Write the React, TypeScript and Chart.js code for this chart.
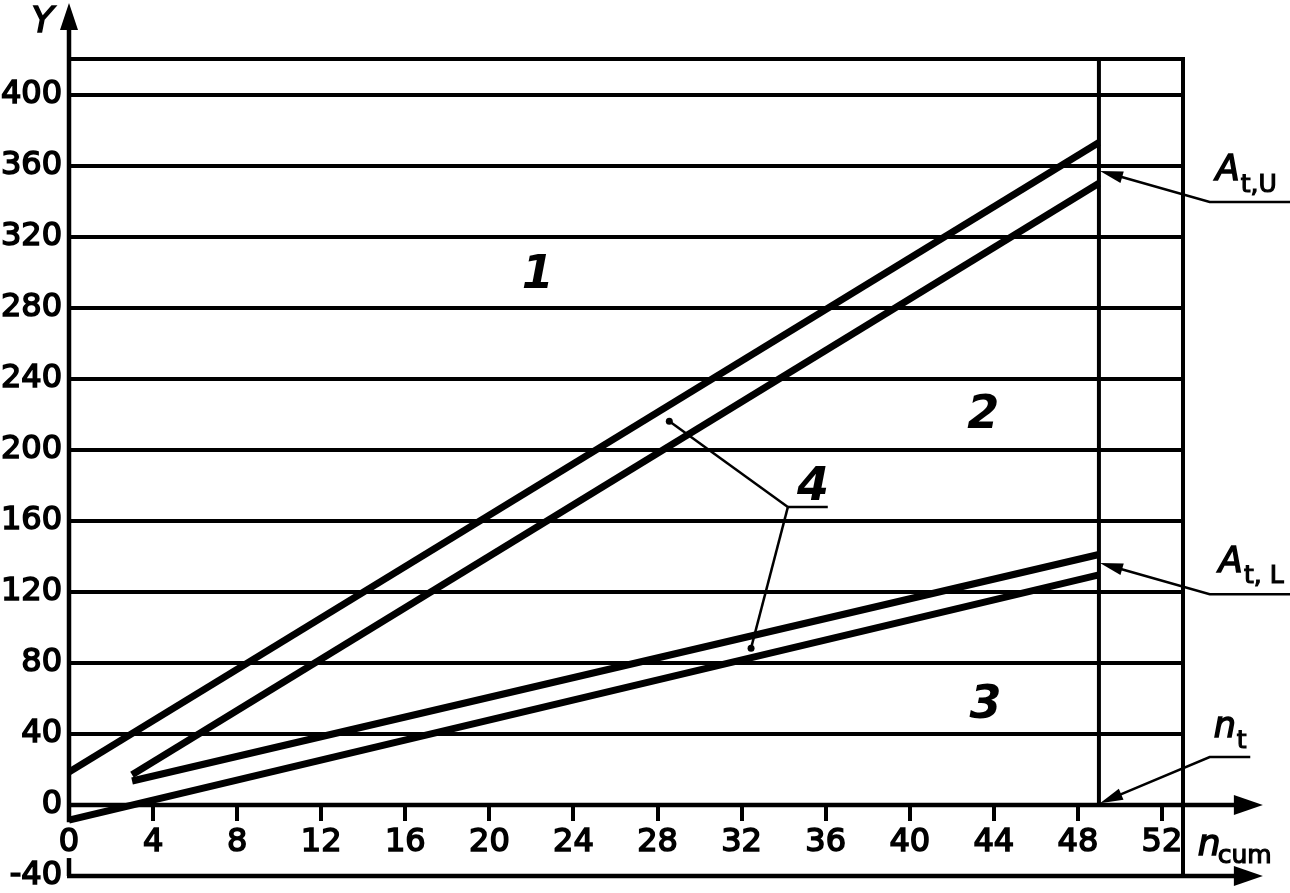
import React, { useEffect, useRef } from "react";
import { Chart, registerables } from "chart.js";

Chart.register(...registerables);

// ---- data ----
const xTicks = [0, 4, 8, 12, 16, 20, 24, 28, 32, 36, 40, 44, 48, 52];
const yTicks = [-40, 0, 40, 80, 120, 160, 200, 240, 280, 320, 360, 400, 420];

const upperOuterX = [0, 49];
const upperOuterY = [18.5, 373];
const upperInnerX = [3, 49];
const upperInnerY = [17, 350];
const lowerInnerX = [3, 49];
const lowerInnerY = [13.5, 141];
const lowerOuterX = [0, 49];
const lowerOuterY = [-8.5, 129.5];

const nT = 49; // n_t, vertical line
const xRight = 53;

const regionText = ["1", "2", "3", "4"];
const regionX = [22.3, 43.5, 43.6, 35.4];
const regionY = [291, 212, 49, 171.6];

// leader for "4": start (under label), then two dots
const leader4Start = [34.2, 167.7];
const leader4End = [36.1, 167.7];
const leader4DotsX = [28.56, 32.45];
const leader4DotsY = [216, 88.3];

// arrow callouts (tip x, tip y, elbow x, elbow y, end x)
const calloutTipX = [49.05, 49.05, 49.05];
const calloutTipY = [357, 136.2, 1];
const calloutElbowX = [54.27, 54.27, 54.27];
const calloutElbowY = [339.5, 118.7, 27];
const calloutEndX = [58.2, 58.2, 56.2];
const calloutMain = ["A", "A", "n"];
const calloutSub = ["t,U", "t, L", "t"];
const calloutMainX = [54.56, 54.7, 54.46];
const calloutMainY = [351.9, 131, 38];
const calloutSubX = [55.75, 55.9, 55.56];
const calloutSubY = [345, 125, 31.8];

const FONT = "DejaVu Sans, sans-serif";

function pts(xs: number[], ys: number[]) {
  return xs.map((x, i) => ({ x, y: ys[i] }));
}

function arrowHead(ctx: CanvasRenderingContext2D, tx: number, ty: number, fx: number, fy: number, len: number, half: number) {
  const dx = tx - fx, dy = ty - fy;
  const d = Math.hypot(dx, dy) || 1;
  const ux = dx / d, uy = dy / d;
  const bx = tx - ux * len, by = ty - uy * len;
  ctx.beginPath();
  ctx.moveTo(tx, ty);
  ctx.lineTo(bx - uy * half, by + ux * half);
  ctx.lineTo(bx + uy * half, by - ux * half);
  ctx.closePath();
  ctx.fill();
}

function seg(ctx: CanvasRenderingContext2D, x1: number, y1: number, x2: number, y2: number) {
  ctx.beginPath();
  ctx.moveTo(x1, y1);
  ctx.lineTo(x2, y2);
  ctx.stroke();
}

function text(ctx: CanvasRenderingContext2D, s: string, x: number, y: number, sw: number) {
  ctx.fillText(s, x, y);
  if (sw > 0) {
    ctx.lineWidth = sw;
    ctx.strokeText(s, x, y);
  }
}

const decor = {
  id: "decor",
  afterDraw(chart: any) {
    const { ctx } = chart;
    const xs = chart.scales.x, ys = chart.scales.y;
    const X = (v: number) => xs.getPixelForValue(v);
    const Y = (v: number) => ys.getPixelForValue(v);
    ctx.save();
    ctx.strokeStyle = "#000";
    ctx.fillStyle = "#000";
    ctx.lineCap = "butt";
    ctx.lineJoin = "miter";

    // vertical lines n_t and right border
    ctx.lineWidth = 4;
    seg(ctx, X(nT), Y(420) - 2, X(nT), Y(0));
    seg(ctx, X(xRight), Y(420) - 2, X(xRight), Y(-40) + 2);

    // axes
    ctx.lineWidth = 4.5;
    seg(ctx, X(0), Y(-9.7), X(0), Y(440));
    arrowHead(ctx, X(0), Y(451.5), X(0), Y(0), 27, 9);
    seg(ctx, X(0) - 2, Y(0), X(55.6), Y(0));
    arrowHead(ctx, X(56.8), Y(0), X(0), Y(0), 29, 10);
    seg(ctx, X(0) - 2, Y(-40), X(55.6), Y(-40));
    seg(ctx, X(0), Y(-40), X(0), Y(-29.9));
    arrowHead(ctx, X(56.8), Y(-40), X(0), Y(-40), 29, 10);

    // callouts
    for (let i = 0; i < calloutTipX.length; i++) {
      ctx.lineWidth = 2.5;
      const tx = X(calloutTipX[i]), ty = Y(calloutTipY[i]);
      const ex = X(calloutElbowX[i]), ey = Y(calloutElbowY[i]);
      const dx = tx - ex, dy = ty - ey;
      const d = Math.hypot(dx, dy);
      ctx.beginPath();
      ctx.moveTo(X(calloutEndX[i]), ey);
      ctx.lineTo(ex, ey);
      ctx.lineTo(tx - (dx / d) * 18, ty - (dy / d) * 18);
      ctx.stroke();
      arrowHead(ctx, tx, ty, ex, ey, 23, 6);
      ctx.textBaseline = "alphabetic";
      ctx.textAlign = "left";
      ctx.font = `oblique 35px ${FONT}`;
      text(ctx, calloutMain[i], X(calloutMainX[i]), Y(calloutMainY[i]), 1.5);
      ctx.font = `25px ${FONT}`;
      text(ctx, calloutSub[i], X(calloutSubX[i]), Y(calloutSubY[i]), 1.2);
    }

    // leader for 4
    ctx.lineWidth = 2.5;
    const sx = X(leader4Start[0]), sy = Y(leader4Start[1]);
    seg(ctx, sx, sy, X(leader4End[0]), Y(leader4End[1]));
    for (let i = 0; i < leader4DotsX.length; i++) {
      const dx = X(leader4DotsX[i]), dy = Y(leader4DotsY[i]);
      seg(ctx, sx, sy, dx, dy);
      ctx.beginPath();
      ctx.arc(dx, dy, 3.5, 0, Math.PI * 2);
      ctx.fill();
    }

    // region labels
    ctx.textAlign = "center";
    ctx.textBaseline = "alphabetic";
    ctx.font = `oblique bold 46px ${FONT}`;
    for (let i = 0; i < regionText.length; i++) {
      text(ctx, regionText[i], X(regionX[i]), Y(regionY[i]), 0);
    }

    // axis names
    ctx.textAlign = "left";
    ctx.font = `oblique 36px ${FONT}`;
    text(ctx, "Y", X(-1.78), Y(435.2), 1.5);
    text(ctx, "n", X(53.7), Y(-28.1), 1.5);
    ctx.font = `25px ${FONT}`;
    text(ctx, "cum", X(54.65), Y(-32.6), 1.2);

    ctx.restore();
  },
};

export default function App() {
  const ref = useRef<HTMLCanvasElement | null>(null);
  useEffect(() => {
    if (!ref.current) return;
    const common = {
      borderColor: "#000",
      borderWidth: 7,
      pointRadius: 0,
      showLine: true,
      fill: false,
      tension: 0,
      borderCapStyle: "butt" as const,
    };
    const tickFont = { family: FONT, size: 32, weight: "normal" as const, lineHeight: 1 };
    const chart = new Chart(ref.current, {
      type: "line",
      data: {
        datasets: [
          { ...common, data: pts(upperOuterX, upperOuterY) },
          { ...common, data: pts(upperInnerX, upperInnerY) },
          { ...common, data: pts(lowerInnerX, lowerInnerY) },
          { ...common, data: pts(lowerOuterX, lowerOuterY) },
        ],
      },
      options: {
        animation: false,
        responsive: false,
        maintainAspectRatio: false,
        events: [],
        layout: { padding: { left: 0, right: 107, top: 59, bottom: 17 } },
        plugins: { legend: { display: false }, tooltip: { enabled: false } },
        scales: {
          x: {
            type: "linear",
            min: 0,
            max: 53,
            offset: false,
            position: { y: 0 } as any,
            afterBuildTicks: (s: any) => {
              s.ticks = xTicks.map((v) => ({ value: v }));
            },
            grid: { drawOnChartArea: false, drawTicks: true, tickLength: 16, lineWidth: 4, color: "#000" },
            border: { display: false },
            ticks: {
              autoSkip: false,
              maxRotation: 0,
              minRotation: 0,
              padding: 6,
              color: "#000",
              textStrokeColor: "#000",
              textStrokeWidth: 1.6,
              font: tickFont,
            },
          },
          y: {
            type: "linear",
            min: -40,
            max: 420,
            position: "left",
            afterFit: (s: any) => {
              s.width = 69;
            },
            afterBuildTicks: (s: any) => {
              s.ticks = yTicks.map((v) => ({ value: v }));
            },
            grid: {
              drawTicks: true,
              tickLength: 7,
              tickColor: "rgba(0,0,0,0)",
              lineWidth: 4,
              color: (c: any) =>
                c.tick && (c.tick.value === -40 || c.tick.value === 0) ? "rgba(0,0,0,0)" : "#000",
            },
            border: { display: false },
            ticks: {
              padding: 0,
              color: "#000",
              textStrokeColor: "#000",
              textStrokeWidth: 1.6,
              font: tickFont,
              callback: (v: any) => (v === 420 ? "" : String(v)),
            },
          },
        },
      },
      plugins: [decor],
    });
    return () => chart.destroy();
  }, []);
  return (
    <div style={{ position: "fixed", left: 0, top: 0, width: 1290, height: 893, background: "#fff" }}>
      <canvas ref={ref} width={1290} height={893} style={{ display: "block", width: 1290, height: 893 }} />
    </div>
  );
}
